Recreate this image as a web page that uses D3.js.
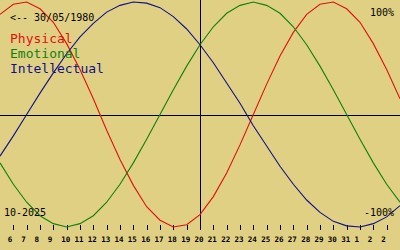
<!DOCTYPE html>
<html><head><meta charset="utf-8">
<script src="https://cdn.jsdelivr.net/npm/d3@7"></script>
<style>html,body{margin:0;padding:0;background:#e0d084;overflow:hidden;}svg{display:block;}</style>
</head><body><svg id="c" width="400" height="250"></svg>
<script>
// ---- data ----
const birthLabel = "<-- 30/05/1980";
const monthLabel = "10-2025";
const topLabel = "100%";
const bottomLabel = "-100%";
const seriesNames = ["Physical", "Emotional", "Intellectual"];
// day offsets relative to today (Oct 20), left edge = Oct 5, right edge = Nov 4
const dayOffsets = [-15,-14,-13,-12,-11,-10,-9,-8,-7,-6,-5,-4,-3,-2,-1,0,1,2,3,4,5,6,7,8,9,10,11,12,13,14,15];
const physical = [89,98,100,94,82,63,40,14,-14,-40,-63,-82,-94,-100,-98,-89,-73,-52,-27,0,27,52,73,89,98,100,94,82,63,40,14];
const emotional = [-43,-62,-78,-90,-97,-100,-97,-90,-78,-62,-43,-22,0,22,43,62,78,90,97,100,97,90,78,62,43,22,0,-22,-43,-62,-78];
const intellectual = [-37,-19,0,19,37,54,69,81,91,97,100,99,95,87,76,62,46,28,10,-10,-28,-46,-62,-76,-87,-95,-99,-100,-97,-91,-81];
const tickOffsets = [-14,-13,-12,-11,-10,-9,-8,-7,-6,-5,-4,-3,-2,-1,0,1,2,3,4,5,6,7,8,9,10,11,12,13,14];
const tickLabels = ["6","7","8","9","10","11","12","13","14","15","16","17","18","19","20","21","22","23","24","25","26","27","28","29","30","31","1","2","2"];

// ---- styles ----
const colors = ["#e01010", "#108010", "#10108c"];
const W = 400, H = 250;
const svg = d3.select("#c");
svg.append("rect").attr("width", W).attr("height", H).attr("fill", "#e0d084");

const x = d3.scaleLinear().domain([-15, 15]).range([0, 400]);
const y = d3.scaleLinear().domain([-100, 100]).range([227, 2]);

const mono = "'DejaVu Sans Mono', 'Liberation Mono', monospace";

// axes
svg.append("line").attr("x1", 0).attr("x2", W)
  .attr("y1", Math.round(y(0)) + 0.5).attr("y2", Math.round(y(0)) + 0.5)
  .attr("stroke", "#000").attr("stroke-width", 1).attr("shape-rendering", "crispEdges");
svg.append("line").attr("x1", Math.round(x(0)) + 0.5).attr("x2", Math.round(x(0)) + 0.5)
  .attr("y1", 0).attr("y2", 230)
  .attr("stroke", "#000").attr("stroke-width", 1).attr("shape-rendering", "crispEdges");

// ticks
const tg = svg.append("g");
tg.selectAll("line").data(tickOffsets).join("line")
  .attr("x1", d => Math.round(x(d)) + 0.5).attr("x2", d => Math.round(x(d)) + 0.5)
  .attr("y1", 225).attr("y2", 230)
  .attr("stroke", "#000").attr("stroke-width", 1).attr("shape-rendering", "crispEdges");
tg.selectAll("text").data(tickOffsets).join("text")
  .attr("x", d => x(d) - 5.5).attr("y", 242)
  .attr("font-family", mono).attr("font-size", 7.5).attr("font-weight", "bold")
  .attr("fill", "#000")
  .text((d, i) => tickLabels[i]);

// curves
const line = d3.line().x((d, i) => x(dayOffsets[i])).y(d => y(d)).curve(d3.curveLinear);
[physical, emotional, intellectual].forEach((s, k) => {
  svg.append("path").datum(s).attr("d", line)
    .attr("fill", "none").attr("stroke", colors[k]).attr("stroke-width", 1.1);
});

// texts
svg.append("text").attr("x", 10).attr("y", 21).attr("font-family", mono).attr("font-size", 10)
  .attr("fill", "#000").text(birthLabel);
seriesNames.forEach((n, k) => {
  svg.append("text").attr("x", 10).attr("y", 43 + k * 15).attr("font-family", mono)
    .attr("font-size", 13).attr("fill", colors[k]).text(n);
});
svg.append("text").attr("x", 394).attr("y", 16).attr("text-anchor", "end").attr("font-family", mono)
  .attr("font-size", 10).attr("fill", "#000").text(topLabel);
svg.append("text").attr("x", 394).attr("y", 216).attr("text-anchor", "end").attr("font-family", mono)
  .attr("font-size", 10).attr("fill", "#000").text(bottomLabel);
svg.append("text").attr("x", 4).attr("y", 216).attr("font-family", mono)
  .attr("font-size", 10).attr("fill", "#000").text(monthLabel);
</script>
</body></html>
